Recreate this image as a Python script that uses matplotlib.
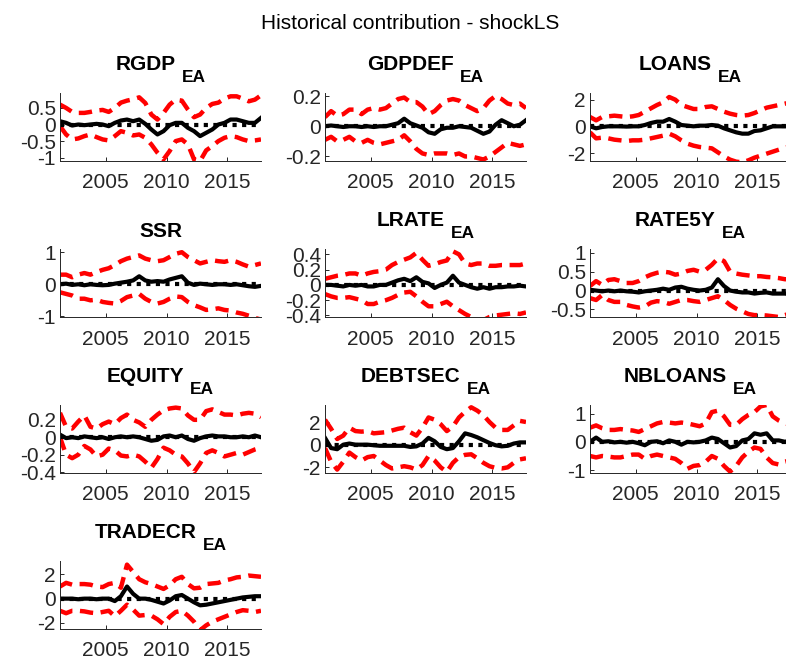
import numpy as np
import matplotlib
matplotlib.use("Agg")
import matplotlib.pyplot as plt
from matplotlib.transforms import offset_copy

plt.rcParams['font.family'] = ['Liberation Sans', 'DejaVu Sans']

# half-yearly sample, 2001H1 .. 2017H2
dates = 2001.25 + 0.5 * np.arange(34)

# median contribution (black), lower / upper band (red)
rgdp_med = [0.1, 0.05, -0.03, 0.0, -0.02, 0.0, 0.02, 0.0, -0.05, 0.05, 0.12, 0.15, 0.1, 0.15, 0.02, -0.15, -0.3,
            -0.2, -0.02, 0.05, 0.05, -0.1, -0.2, -0.35, -0.25, -0.15, 0.0, 0.05, 0.15, 0.15, 0.1, 0.05, 0.05, 0.2]
rgdp_lo = [-0.05, -0.3, -0.45, -0.42, -0.35, -0.3, -0.38, -0.45, -0.48, -0.35, -0.2, -0.25, -0.33, -0.3, -0.4, -0.6,
           -0.85, -1.05, -0.8, -0.5, -0.45, -0.6, -1.05, -1.1, -0.78, -0.65, -0.5, -0.4, -0.35, -0.38, -0.45, -0.5,
           -0.48, -0.45]
rgdp_hi = [0.6, 0.5, 0.38, 0.35, 0.35, 0.38, 0.42, 0.44, 0.38, 0.5, 0.66, 0.72, 0.76, 0.82, 0.65, 0.3, 0.15, 0.35,
           0.6, 0.75, 0.72, 0.45, 0.22, 0.3, 0.5, 0.62, 0.66, 0.78, 0.85, 0.85, 0.78, 0.7, 0.75, 0.88]

gdpdef_med = [0.0, 0.005, 0.0, -0.005, 0.0, 0.0, -0.005, 0.0, -0.005, 0.0, 0.0, 0.01, 0.02, 0.05, 0.02, 0.005, -0.01,
              -0.04, -0.05, -0.02, -0.01, -0.01, 0.0, -0.005, -0.01, -0.03, -0.05, -0.035, 0.01, 0.04, 0.02, 0.0,
              0.01, 0.04]
gdpdef_lo = [-0.09, -0.07, -0.1, -0.09, -0.07, -0.1, -0.11, -0.09, -0.11, -0.12, -0.11, -0.1, -0.09, -0.06, -0.1,
             -0.15, -0.18, -0.19, -0.18, -0.18, -0.18, -0.19, -0.18, -0.2, -0.2, -0.21, -0.22, -0.2, -0.17, -0.14,
             -0.11, -0.12, -0.13, -0.12]
gdpdef_hi = [0.06, 0.1, 0.07, 0.08, 0.11, 0.11, 0.08, 0.11, 0.12, 0.11, 0.12, 0.15, 0.18, 0.19, 0.16, 0.16, 0.13,
             0.08, 0.1, 0.14, 0.17, 0.18, 0.17, 0.14, 0.12, 0.1, 0.12, 0.17, 0.2, 0.18, 0.15, 0.14, 0.15, 0.12]

loans_med = [0.0, -0.15, -0.05, 0.0, 0.0, 0.0, -0.02, 0.0, 0.0, 0.1, 0.25, 0.35, 0.35, 0.55, 0.35, 0.1, 0.05, 0.0,
             0.05, 0.05, 0.1, 0.05, -0.15, -0.3, -0.45, -0.55, -0.55, -0.35, -0.3, -0.15, 0.0, 0.0, 0.0, 0.02]
loans_lo = [-0.45, -0.9, -0.85, -0.9, -1.0, -1.05, -1.1, -1.05, -1.05, -1.0, -0.9, -0.8, -0.7, -0.55, -0.75, -1.05,
            -1.3, -1.45, -1.55, -1.6, -1.65, -1.95, -2.25, -2.5, -2.65, -2.7, -2.55, -2.35, -2.2, -2.05, -1.9, -1.75,
            -1.6, -1.5]
loans_hi = [0.7, 0.45, 0.7, 0.75, 0.8, 0.75, 0.7, 0.75, 0.85, 1.1, 1.35, 1.6, 1.8, 2.2, 2.0, 1.6, 1.45, 1.3, 1.3,
            1.45, 1.5, 1.3, 1.1, 0.95, 0.85, 0.8, 0.85, 1.0, 1.2, 1.4, 1.5, 1.6, 1.7, 1.8]

ssr_med = [0.0, 0.02, -0.02, 0.0, -0.03, 0.0, -0.02, -0.03, -0.02, 0.02, 0.05, 0.08, 0.12, 0.25, 0.12, 0.08, 0.1,
           0.08, 0.15, 0.2, 0.25, 0.05, -0.02, 0.02, 0.0, -0.02, 0.0, 0.0, -0.02, 0.0, -0.03, -0.06, -0.08, -0.05]
ssr_lo = [-0.25, -0.3, -0.35, -0.45, -0.45, -0.5, -0.48, -0.55, -0.58, -0.6, -0.52, -0.4, -0.35, -0.3, -0.45, -0.55,
          -0.6, -0.55, -0.45, -0.38, -0.4, -0.55, -0.65, -0.72, -0.8, -0.78, -0.75, -0.8, -0.82, -0.88, -0.92,
          -0.98, -1.05, -1.1]
ssr_hi = [0.3, 0.3, 0.22, 0.3, 0.35, 0.3, 0.38, 0.45, 0.5, 0.6, 0.72, 0.8, 0.85, 0.9, 0.8, 0.75, 0.72, 0.75, 0.85,
          0.95, 1.0, 0.85, 0.75, 0.65, 0.7, 0.75, 0.72, 0.7, 0.75, 0.7, 0.62, 0.55, 0.6, 0.65]

lrate_med = [0.0, 0.0, -0.01, -0.02, 0.0, -0.01, 0.0, -0.02, -0.02, 0.0, 0.0, 0.03, 0.06, 0.08, 0.05, 0.1, 0.04,
             0.02, -0.04, 0.0, 0.03, 0.12, 0.03, 0.0, -0.03, -0.05, -0.03, -0.05, -0.03, -0.03, -0.02, -0.02, -0.01,
             -0.02]
lrate_lo = [-0.12, -0.15, -0.17, -0.17, -0.16, -0.18, -0.2, -0.25, -0.25, -0.22, -0.2, -0.17, -0.13, -0.1, -0.09,
            -0.15, -0.22, -0.28, -0.28, -0.25, -0.22, -0.28, -0.33, -0.38, -0.42, -0.45, -0.46, -0.42, -0.4, -0.39,
            -0.38, -0.37, -0.38, -0.36]
lrate_hi = [0.08, 0.1, 0.12, 0.13, 0.15, 0.15, 0.12, 0.15, 0.17, 0.18, 0.2, 0.26, 0.3, 0.33, 0.36, 0.42, 0.33, 0.25,
            0.27, 0.3, 0.32, 0.44, 0.4, 0.28, 0.26, 0.28, 0.28, 0.25, 0.25, 0.26, 0.26, 0.26, 0.26, 0.28]

rate5y_med = [0.02, 0.0, -0.02, 0.0, -0.02, 0.0, -0.02, -0.03, -0.05, -0.02, 0.0, 0.02, 0.05, 0.02, 0.08, 0.1, 0.05,
              0.02, 0.0, 0.02, 0.08, 0.3, 0.12, 0.0, -0.03, -0.05, -0.05, -0.08, -0.06, -0.05, -0.08, -0.08, -0.08,
              -0.1]
rate5y_lo = [-0.2, -0.25, -0.12, -0.25, -0.3, -0.3, -0.38, -0.42, -0.45, -0.42, -0.32, -0.28, -0.3, -0.35, -0.3,
             -0.25, -0.25, -0.28, -0.3, -0.25, -0.2, -0.15, -0.25, -0.38, -0.48, -0.55, -0.62, -0.65, -0.65, -0.66,
             -0.68, -0.7, -0.65, -0.6]
rate5y_hi = [0.12, 0.25, 0.15, 0.28, 0.3, 0.25, 0.2, 0.2, 0.25, 0.35, 0.42, 0.47, 0.5, 0.48, 0.42, 0.45, 0.52, 0.55,
             0.5, 0.55, 0.68, 0.85, 0.78, 0.5, 0.45, 0.42, 0.4, 0.38, 0.38, 0.36, 0.35, 0.33, 0.3, 0.3]

equity_med = [0.03, -0.01, 0.0, -0.01, 0.01, 0.0, -0.01, 0.0, -0.02, 0.0, 0.01, 0.0, 0.01, 0.0, -0.02, -0.04, -0.03,
              0.01, 0.02, 0.0, 0.02, -0.02, -0.04, -0.01, 0.01, 0.02, 0.01, 0.01, 0.0, 0.0, 0.01, 0.0, 0.02, 0.0]
equity_lo = [0.0, -0.2, -0.24, -0.2, -0.1, -0.14, -0.22, -0.2, -0.13, -0.15, -0.21, -0.22, -0.2, -0.22, -0.28,
             -0.35, -0.25, -0.12, -0.15, -0.2, -0.22, -0.3, -0.4, -0.3, -0.18, -0.15, -0.18, -0.22, -0.2, -0.18, -0.2,
             -0.17, -0.14, -0.12]
equity_hi = [0.28, 0.12, 0.1, 0.18, 0.25, 0.12, 0.1, 0.15, 0.18, 0.15, 0.22, 0.26, 0.2, 0.17, 0.12, 0.2, 0.26, 0.31,
             0.33, 0.34, 0.33, 0.25, 0.2, 0.2, 0.3, 0.32, 0.29, 0.26, 0.26, 0.25, 0.27, 0.28, 0.27, 0.23]

debtsec_med = [0.6, -0.3, -0.4, 0.0, 0.1, 0.0, 0.0, 0.0, -0.05, -0.1, -0.1, -0.1, -0.1, -0.1, -0.2, -0.15, 0.1, 0.6,
               0.3, -0.2, -0.4, -0.3, 0.3, 1.0, 0.85, 0.65, 0.4, 0.15, -0.05, -0.15, -0.1, 0.1, 0.2, 0.2]
debtsec_lo = [-0.3, -1.5, -2.2, -1.5, -0.7, -1.1, -1.4, -1.1, -1.0, -1.4, -1.8, -2.1, -2.0, -1.9, -2.0, -2.2, -1.8,
              -1.0, -1.4, -2.0, -2.4, -1.6, -1.1, -0.9, -0.85, -1.2, -1.6, -1.9, -2.05, -2.1, -2.0, -1.6, -1.3, -1.2]
debtsec_hi = [2.2, 1.4, 0.5, 0.8, 1.5, 1.2, 1.15, 1.2, 1.0, 1.05, 1.1, 1.25, 1.4, 1.5, 1.1, 0.8, 1.5, 2.4, 2.2, 1.8,
              1.2, 1.6, 2.4, 2.9, 3.3, 3.0, 2.6, 2.0, 1.5, 1.3, 1.3, 1.7, 2.1, 2.0]

nbloans_med = [0.0, 0.15, 0.0, 0.02, -0.02, 0.0, -0.03, 0.0, -0.05, -0.12, 0.0, 0.02, -0.05, 0.05, 0.0, -0.1, 0.0,
               -0.02, 0.0, 0.05, 0.15, 0.1, -0.05, -0.2, -0.15, 0.05, 0.1, 0.3, 0.25, 0.3, 0.05, 0.05, 0.0, 0.05]
nbloans_lo = [-0.5, -0.55, -0.5, -0.52, -0.55, -0.55, -0.5, -0.45, -0.45, -0.6, -0.5, -0.45, -0.5, -0.55, -0.6,
              -0.75, -0.95, -0.85, -0.82, -0.7, -0.5, -0.6, -0.85, -1.05, -0.85, -0.55, -0.35, -0.2, -0.25, -0.55,
              -0.75, -0.8, -0.7, -0.65]
nbloans_hi = [0.5, 0.58, 0.48, 0.42, 0.42, 0.45, 0.42, 0.4, 0.35, 0.45, 0.55, 0.65, 0.7, 0.68, 0.65, 0.68, 0.65, 0.6,
              0.55, 0.65, 1.05, 1.1, 0.9, 0.6, 0.6, 0.8, 0.95, 1.05, 1.25, 1.3, 0.9, 0.75, 0.65, 0.6]

tradecr_med = [0.0, 0.0, 0.0, -0.05, 0.0, 0.0, -0.05, 0.0, 0.0, -0.2, 0.2, 1.0, 0.4, 0.0, 0.0, -0.1, -0.25, -0.4,
               -0.15, 0.2, 0.3, 0.0, -0.3, -0.55, -0.5, -0.4, -0.3, -0.2, -0.1, 0.0, 0.1, 0.15, 0.2, 0.2]
tradecr_lo = [-1.0, -1.2, -1.0, -1.0, -1.05, -1.15, -1.2, -1.1, -1.0, -1.45, -1.0, -0.5, -0.9, -1.4, -1.35, -1.4,
              -1.7, -2.1, -1.5, -1.1, -1.0, -1.4, -1.9, -2.6, -2.2, -1.9, -1.7, -1.5, -1.3, -1.1, -0.95, -1.0, -1.1,
              -1.0]
tradecr_hi = [1.0, 1.3, 1.15, 1.2, 1.2, 1.15, 1.0, 0.95, 1.2, 1.3, 0.9, 2.8, 2.2, 1.6, 1.35, 1.2, 1.0, 0.8, 1.1, 1.6,
              1.8, 1.2, 0.85, 0.9, 1.2, 1.25, 1.3, 1.5, 1.6, 1.75, 1.8, 1.9, 1.85, 1.8]

# name, subscript, series, y ticks, y limits
panels = [
    ("RGDP", "EA", rgdp_med, rgdp_lo, rgdp_hi, [-1, -0.5, 0, 0.5], (-1.1, 0.95)),
    ("GDPDEF", "EA", gdpdef_med, gdpdef_lo, gdpdef_hi, [-0.2, 0, 0.2], (-0.23, 0.22)),
    ("LOANS", "EA", loans_med, loans_lo, loans_hi, [-2, 0, 2], (-2.6, 2.5)),
    ("SSR", "", ssr_med, ssr_lo, ssr_hi, [-1, 0, 1], (-1.02, 1.1)),
    ("LRATE", "EA", lrate_med, lrate_lo, lrate_hi, [-0.4, -0.2, 0, 0.2, 0.4], (-0.42, 0.47)),
    ("RATE5Y", "EA", rate5y_med, rate5y_lo, rate5y_hi, [-0.5, 0, 0.5, 1], (-0.7, 1.1)),
    ("EQUITY", "EA", equity_med, equity_lo, equity_hi, [-0.4, -0.2, 0, 0.2], (-0.41, 0.37)),
    ("DEBTSEC", "EA", debtsec_med, debtsec_lo, debtsec_hi, [-2, 0, 2], (-2.5, 3.5)),
    ("NBLOANS", "EA", nbloans_med, nbloans_lo, nbloans_hi, [-1, 0, 1], (-1.1, 1.3)),
    ("TRADECR", "EA", tradecr_med, tradecr_lo, tradecr_hi, [-2, 0, 2], (-2.5, 3.1)),
]
year_ticks = [2005, 2010, 2015]

W, H = 786, 662
fig = plt.figure(figsize=(W / 100, H / 100), dpi=100)
renderer = fig.canvas.get_renderer()

col_left = [60, 325, 590]
row_top = [93, 249, 405, 561]
ax_w, ax_h = 201, 68
grey = '0.15'


def fmt(v):
    return ('%g' % v)


for k, (name, sub, med, lo, hi, yt, yl) in enumerate(panels):
    r, c = divmod(k, 3)
    x0, y0 = col_left[c], row_top[r]
    ax = fig.add_axes([x0 / W, 1 - (y0 + ax_h) / H, ax_w / W, ax_h / H])

    ax.plot(dates, med, color='k', lw=3.0, solid_joinstyle='round')
    ax.plot(dates, lo, color='r', lw=3.2, linestyle=(0, (3.0, 1.7)))
    ax.plot(dates, hi, color='r', lw=3.2, linestyle=(0, (3.0, 1.7)))
    ax.plot(dates, np.zeros(len(dates)), color='k', lw=3.0, linestyle=(0, (1, 1.3)))

    ax.set_xlim(dates[0], dates[-1])
    ax.set_ylim(*yl)
    ax.set_xticks(year_ticks)
    ax.set_xticklabels([str(y) for y in year_ticks])
    ax.set_yticks(yt)
    ax.set_yticklabels([fmt(v) for v in yt])
    for s in ['top', 'right']:
        ax.spines[s].set_visible(False)
    for s in ['left', 'bottom']:
        ax.spines[s].set_color(grey)
        ax.spines[s].set_linewidth(0.7)
    ax.tick_params(direction='in', length=3, width=0.7, colors=grey, labelsize=15)
    ax.tick_params(axis='x', pad=9)
    ax.tick_params(axis='y', pad=3)

    # bold title with a lowered subscript, centred over the axes
    t1 = ax.text(0.5, 1.0, name, transform=ax.transAxes, fontsize=15, fontweight='bold',
                 ha='left', va='baseline')
    w1 = t1.get_window_extent(renderer).width
    if sub:
        t2 = ax.text(0.5, 1.0, sub, transform=ax.transAxes, fontsize=12.5, fontweight='bold',
                     ha='left', va='baseline')
        w2 = t2.get_window_extent(renderer).width
        gap = 6
        total = w1 + gap + w2
        t1.set_transform(offset_copy(ax.transAxes, fig=fig, x=-total / 2, y=23, units='dots'))
        t2.set_transform(offset_copy(ax.transAxes, fig=fig, x=-total / 2 + w1 + gap, y=11, units='dots'))
    else:
        t1.set_transform(offset_copy(ax.transAxes, fig=fig, x=-w1 / 2, y=12, units='dots'))

fig.text(410 / W, 1 - 29 / H, "Historical contribution - shockLS", fontsize=15,
         ha='center', va='baseline')

fig.savefig("out.png", dpi=100)
